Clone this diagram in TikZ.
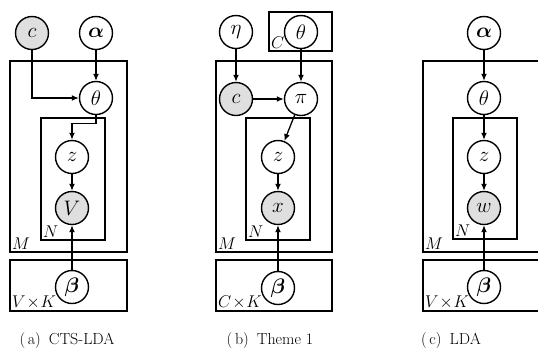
\RequirePackage{fix-cm}
\documentclass[tikz,border=0pt]{standalone}
\usepackage{amsmath,amssymb}
\usepackage{tikz}
\usetikzlibrary{calc}
\usetikzlibrary{arrows.meta}

\begin{document}
\begin{tikzpicture}[x=1pt,y=-1pt]
% % Node style
 \tikzset{
 	var/.style={circle,draw,line width=1.4pt,minimum size=33pt,inner sep=0pt,font=\fontsize{21}{23}\selectfont},
 	obs/.style={var,fill=gray!25},
 	plate/.style={draw,line width=1.2pt},
 	platelabel/.style={anchor=south west,inner sep=1pt,font=\fontsize{17}{19}\selectfont},
 	arr/.style={line width=1.3pt,-{Latex[length=7pt,width=6pt]}},
 	caption/.style={font=\fontsize{16}{18}\selectfont}
 }
 \useasboundingbox (0,0) rectangle (538,349);
 \clip (0,0) rectangle (538,349);
% % (a) CTS-LDA
 \draw[plate] (10,61) rectangle (127,252) (41,118) rectangle (105,240) (10,260) rectangle (127,311);
 \node[obs] (CA) at (32,33) {$c$};
 \node[var] (ALPHAA) at (96,33) {$\boldsymbol{\alpha}$};
 \node[var] (THETAA) at (96,98) {$\theta$};
 \node[var] (ZA) at (72,157) {$z$};
 \node[obs] (VA) at (72,208) {$V$};
 \node[var] (BETAA) at (72,287) {$\boldsymbol{\beta}$};
 \node[platelabel] (MA) at (11,251) {$M$};
 \node[platelabel] (NA) at (42,239) {$N$};
 \node[platelabel] (VKA) at (11,310) {$V\!\times\! K$};
 \draw[arr] (CA) |- (THETAA);
 \draw[arr] (ALPHAA) -- (THETAA);
 \draw[arr] (THETAA.south) -- ++(0,8.5) -| (ZA);
 \draw[arr] (ZA) -- (VA);
 \draw[arr] (BETAA) -- (VA);
 \node[caption] (CAPA) at (67,340) {(\,a)\enspace CTS-LDA};
% % (b) Theme 1
 \draw[plate] (269,12) rectangle (332,51) (216,61) rectangle (332,252) (246,118) rectangle (310,240) (216,260) rectangle (332,311);
 \node[var] (ETAB) at (236,32) {$\eta$};
 \node[var] (THETAB) at (301,32) {$\theta$};
 \node[obs] (CB) at (236,99) {$c$};
 \node[var] (PIB) at (301,99) {$\pi$};
 \node[var] (ZB) at (278,157) {$z$};
 \node[obs] (XB) at (278,208) {$x$};
 \node[var] (BETAB) at (278,288) {$\boldsymbol{\beta}$};
 \node[platelabel] (CCB) at (270,50) {$C$};
 \node[platelabel] (MB) at (217,251) {$M$};
 \node[platelabel] (NB) at (247,239) {$N$};
 \node[platelabel] (CKB) at (217,310) {$C\!\times\! K$};
 \draw[arr] (ETAB) -- (CB);
 \draw[arr] (THETAB) -- (PIB);
 \draw[arr] (CB) -- (PIB);
 \draw[arr] (PIB) -- (ZB);
 \draw[arr] (ZB) -- (XB);
 \draw[arr] (BETAB) -- (XB);
 \node[caption] (CAPB) at (270,340) {(\,b)\enspace Theme 1};
% % (c) LDA, plates run past the page edge
 \draw[plate] (423,61) rectangle (548,252) (453,118) rectangle (517,239) (423,260) rectangle (548,311);
 \node[var] (ALPHAC) at (484,33) {$\boldsymbol{\alpha}$};
 \node[var] (THETAC) at (484,98) {$\theta$};
 \node[var] (ZC) at (484,157) {$z$};
 \node[obs] (WC) at (484,208) {$w$};
 \node[var] (BETAC) at (484,287) {$\boldsymbol{\beta}$};
 \node[platelabel] (MC) at (424,251) {$M$};
 \node[platelabel] (NC) at (454,238) {$N$};
 \node[platelabel] (VKC) at (424,310) {$V\!\times\! K$};
 \draw[arr] (ALPHAC) -- (THETAC);
 \draw[arr] (THETAC) -- (ZC);
 \draw[arr] (ZC) -- (WC);
 \draw[arr] (BETAC) -- (WC);
 \node[caption] (CAPC) at (451,340) {(\,c)\enspace LDA};
\end{tikzpicture}
\end{document}
